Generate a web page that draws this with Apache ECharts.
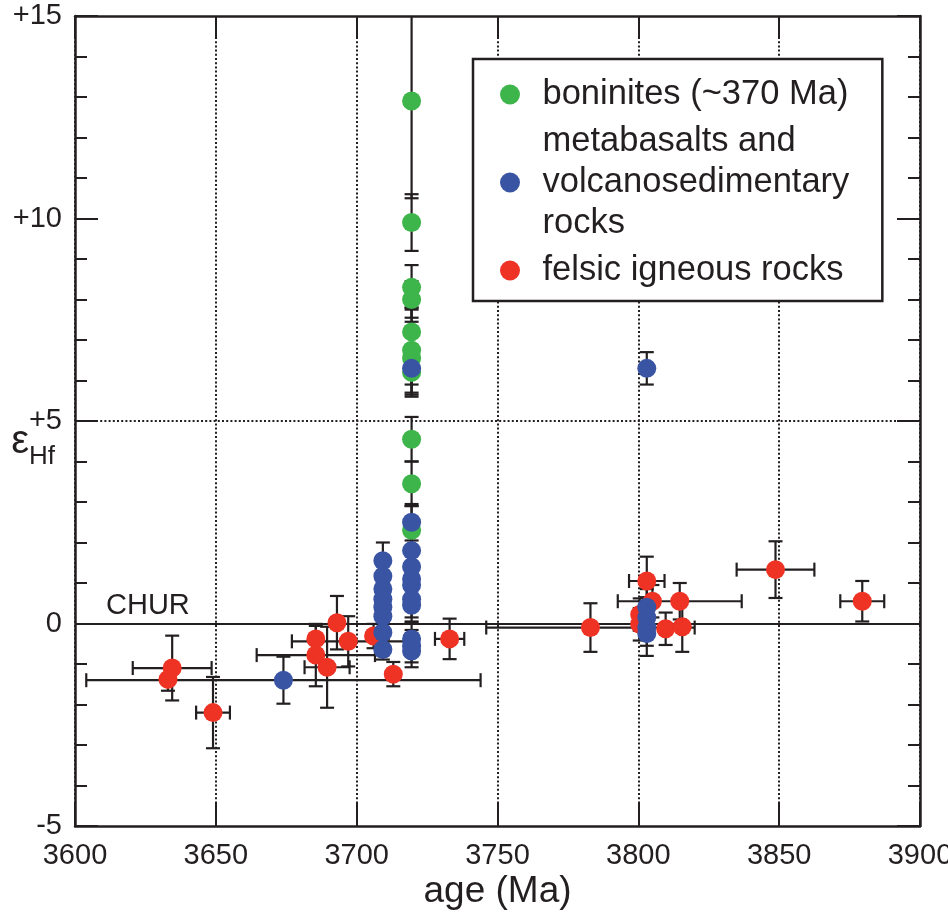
<!DOCTYPE html>
<html>
<head>
<meta charset="utf-8">
<title>eHf vs age</title>
<script src="https://cdn.jsdelivr.net/npm/echarts@6/dist/echarts.min.js"></script>
<style>
  html, body { margin: 0; padding: 0; background: #fff; }
  #chart { width: 948px; height: 917px; }
</style>
</head>
<body>
<div id="chart"></div>
<script>
// rows: [age (Ma), eHf, ±age, ±eHf]
const boninites = [
    [3719.5, 12.9, 0, 2.4],
    [3719.5, 9.9, 0, 0.7],
    [3719.5, 8.3, 0, 0.55],
    [3719.5, 8.0, 0, 0.45],
    [3719.5, 7.2, 0, 0.6],
    [3719.5, 6.75, 0, 1.05],
    [3719.5, 6.55, 0, 0.9],
    [3719.5, 6.2, 0, 0.6],
    [3719.5, 4.55, 0, 0.55],
    [3719.5, 3.45, 0, 0.55],
    [3719.5, 2.3, 0, 0.6]
];
const volcanics = [
    [3719.5, 6.3, 0, 0.4],
    [3719.5, 2.5, 0, 0.45],
    [3719.5, 1.8, 0, 0.45],
    [3719.5, 1.4, 0, 0.4],
    [3719.5, 1.1, 0, 0.4],
    [3719.5, 0.95, 0, 0.4],
    [3719.5, 0.6, 0, 0.45],
    [3719.5, 0.45, 0, 0.4],
    [3719.5, -0.38, 0, 0.4],
    [3719.5, -0.56, 0, 0.4],
    [3719.5, -0.68, 0, 0.4],
    [3709.3, 1.55, 0, 0.45],
    [3709.3, 1.17, 0, 0.4],
    [3709.3, 0.85, 0, 0.4],
    [3709.3, 0.6, 0, 0.4],
    [3709.3, 0.4, 0, 0.4],
    [3709.3, 0.18, 0, 0.35],
    [3709.3, -0.22, 0, 0.3],
    [3709.3, -0.64, 0, 0.25],
    [3674, -1.4, 70, 0.58],
    [3803, 6.3, 0, 0.4],
    [3803, 0.4, 0, 0.45],
    [3803, 0.15, 0, 0.5],
    [3803, -0.1, 0, 0.45],
    [3803, -0.25, 0, 0.55]
];
const felsic = [
    [3634.5, -1.1, 14, 0.8],
    [3633, -1.38, 0, 0.28],
    [3649, -2.2, 6, 0.88],
    [3685.5, -0.38, 0, 0.32],
    [3685.5, -0.78, 21, 0.77],
    [3689.5, -1.08, 8, 1.0],
    [3693, 0.02, 0, 0.66],
    [3697, -0.44, 20, 0.62],
    [3706, -0.31, 0, 0.3],
    [3713, -1.25, 0, 0.3],
    [3733, -0.38, 5.2, 0.5],
    [3783, -0.1, 37, 0.6],
    [3803, 1.05, 6.3, 0.6],
    [3805, 0.55, 0, 0.4],
    [3800.5, 0.22, 0, 0.4],
    [3800.5, -0.02, 0, 0.4],
    [3809.7, -0.13, 0, 0.4],
    [3814.7, 0.55, 22, 0.45],
    [3815.6, -0.08, 0, 0.62],
    [3848.7, 1.33, 13.8, 0.7],
    [3879.5, 0.55, 7.8, 0.5]
];
const groupNames = [
    'boninites (~370 Ma)',
    'metabasalts and\nvolcanosedimentary\nrocks',
    'felsic igneous rocks'
];
const groupColors = ['#3db54a', '#3a54a4', '#ee3224'];
const ageRange = [3600, 3900];
const ehfRange = [-5, 15];
const chur = 0;

const INK = '#231f20';
const FONT = '"Liberation Sans", Arial, Helvetica, sans-serif';

// error bars (x and y whiskers with caps)
function renderErr(params, api) {
    const x = api.value(0), y = api.value(1);
    const ex = api.value(2), ey = api.value(3);
    const c = api.coord([x, y]);
    const cap = 7;
    const st = { stroke: INK, lineWidth: 2.2 };
    const kids = [];
    if (ey > 0) {
        const t = api.coord([x, y + ey])[1];
        const b = api.coord([x, y - ey])[1];
        kids.push({ type: 'line', shape: { x1: c[0], y1: t, x2: c[0], y2: b }, style: st });
        kids.push({ type: 'line', shape: { x1: c[0] - cap, y1: t, x2: c[0] + cap, y2: t }, style: st });
        kids.push({ type: 'line', shape: { x1: c[0] - cap, y1: b, x2: c[0] + cap, y2: b }, style: st });
    }
    if (ex > 0) {
        const l = api.coord([x - ex, y])[0];
        const r = api.coord([x + ex, y])[0];
        kids.push({ type: 'line', shape: { x1: l, y1: c[1], x2: r, y2: c[1] }, style: st });
        kids.push({ type: 'line', shape: { x1: l, y1: c[1] - cap, x2: l, y2: c[1] + cap }, style: st });
        kids.push({ type: 'line', shape: { x1: r, y1: c[1] - cap, x2: r, y2: c[1] + cap }, style: st });
    }
    return { type: 'group', children: kids };
}

const chart = echarts.init(document.getElementById('chart'), null, { renderer: 'canvas' });

const lineSt = { color: INK, width: 2.5 };
const dotted = { color: INK, width: 2, type: [2, 2.2] };
const option = {
    backgroundColor: '#fff',
    animation: false,
    textStyle: { fontFamily: FONT, color: INK },
    grid: {
        left: 75, right: 28, top: 16, bottom: 91,
        containLabel: false,
        outerBoundsMode: 'none'
    },
    legend: {
        orient: 'vertical',
        align: 'left',
        left: 473,
        top: 59,
        padding: [15, 33, 10, 27],
        itemGap: 6,
        itemWidth: 55,
        itemHeight: 20,
        icon: 'circle',
        borderColor: INK,
        borderWidth: 2.5,
        backgroundColor: '#fff',
        selectedMode: false,
        data: groupNames,
        textStyle: { fontSize: 34.5, lineHeight: 41, color: INK, fontFamily: FONT }
    },
    xAxis: [{
        type: 'value',
        min: ageRange[0], max: ageRange[1], interval: 50,
        name: 'age (Ma)',
        nameLocation: 'middle',
        nameGap: 47,
        nameMoveOverlap: false,
        nameTextStyle: { fontSize: 37, color: INK, fontFamily: FONT },
        axisLine: { onZero: false, lineStyle: lineSt },
        axisTick: { inside: true, length: 23, lineStyle: { color: INK, width: 2 } },
        axisLabel: { fontSize: 29, color: INK, margin: 15, fontFamily: FONT, formatter: v => String(v) },
        splitLine: { show: true, lineStyle: dotted }
    }, {
        type: 'value',
        position: 'top',
        min: ageRange[0], max: ageRange[1], interval: 50,
        axisLine: { onZero: false, lineStyle: lineSt },
        axisTick: { inside: true, length: 23, lineStyle: { color: INK, width: 2 } },
        axisLabel: { show: false },
        splitLine: { show: false }
    }],
    yAxis: [{
        type: 'value',
        min: ehfRange[0], max: ehfRange[1], interval: 5,
        name: '{e|ε}{h|Hf}',
        nameLocation: 'middle',
        nameRotate: 0,
        nameGap: 20,
        nameMoveOverlap: false,
        nameTextStyle: {
            padding: [42, 0, 0, 0],
            rich: {
                e: { fontSize: 40, color: INK, fontFamily: FONT },
                h: { fontSize: 26, color: INK, fontFamily: FONT, padding: [30, 0, 0, 0] }
            }
        },
        axisLine: { onZero: false, lineStyle: lineSt },
        axisTick: { inside: true, length: 23, lineStyle: { color: INK, width: 2 } },
        minorTick: { show: true, splitNumber: 5, length: 12, lineStyle: { color: INK, width: 2 } },
        axisLabel: {
            fontSize: 29, color: INK, margin: 13, fontFamily: FONT,
            formatter: v => (v > 0 ? '+' + v : String(v))
        },
        splitLine: { show: false }
    }, {
        type: 'value',
        position: 'right',
        min: ehfRange[0], max: ehfRange[1], interval: 5,
        axisLine: { onZero: false, lineStyle: lineSt },
        axisTick: { inside: true, length: 23, lineStyle: { color: INK, width: 2 } },
        minorTick: { show: true, splitNumber: 5, length: 12, lineStyle: { color: INK, width: 2 } },
        axisLabel: { show: false },
        splitLine: { show: false }
    }],
    series: [
        {
            type: 'custom', name: 'err-b', renderItem: renderErr, clip: true,
            data: boninites, z: 3, silent: true
        },
        {
            type: 'custom', name: 'err-f', renderItem: renderErr, clip: true,
            data: felsic, z: 3, silent: true
        },
        {
            type: 'custom', name: 'err-v', renderItem: renderErr, clip: true,
            data: volcanics, z: 3, silent: true
        },
        {
            type: 'scatter', name: groupNames[0], data: boninites.map(r => [r[0], r[1]]),
            symbolSize: 19, itemStyle: { color: groupColors[0], opacity: 1 }, z: 5,
            markLine: {
                silent: true, symbol: 'none', z: 2,
                data: [
                    {
                        yAxis: 5,
                        lineStyle: dotted,
                        label: { show: false }
                    },
                    {
                        yAxis: chur,
                        lineStyle: { color: INK, width: 2.2, type: 'solid' },
                        label: {
                            show: true, formatter: 'CHUR', position: 'insideStartTop',
                            fontSize: 29, color: INK, fontFamily: FONT,
                            padding: [0, 0, 0, 28], distance: 3
                        }
                    }
                ]
            }
        },
        {
            type: 'scatter', name: groupNames[2], data: felsic.map(r => [r[0], r[1]]),
            symbolSize: 19, itemStyle: { color: groupColors[2], opacity: 1 }, z: 6
        },
        {
            type: 'scatter', name: groupNames[1], data: volcanics.map(r => [r[0], r[1]]),
            symbolSize: 19, itemStyle: { color: groupColors[1], opacity: 1 }, z: 7
        }
    ]
};
chart.setOption(option);
window.addEventListener('resize', chart.resize);
</script>
</body>
</html>
